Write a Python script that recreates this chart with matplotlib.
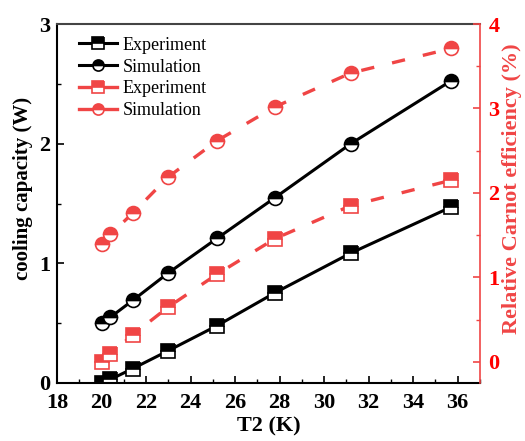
import matplotlib
matplotlib.use("Agg")
import matplotlib.pyplot as plt
from matplotlib.ticker import MultipleLocator

plt.rcParams['font.family'] = ['Liberation Serif', 'DejaVu Serif']

T2 = [20.0, 20.4, 21.4, 23.0, 25.2, 27.8, 31.2, 35.7]
cap_exp = [0.0, 0.03, 0.12, 0.27, 0.48, 0.755, 1.086, 1.47]
cap_sim = [0.50, 0.55, 0.69, 0.92, 1.21, 1.55, 2.0, 2.525]
eff_exp = [0.0, 0.09, 0.32, 0.65, 1.04, 1.46, 1.85, 2.15]
eff_sim = [1.39, 1.51, 1.76, 2.19, 2.62, 3.02, 3.42, 3.71]

RED = '#f04545'
TICKRED = '#ff0000'

fig = plt.figure(figsize=(5.25, 4.41), dpi=100)
ax = fig.add_axes([57/525, 1-383/441, (480-57)/525, (383-24)/441])
ax2 = ax.twinx()

mk = dict(markersize=10, markeredgewidth=1.2, markerfacecoloralt='white', fillstyle='top')
l1, = ax.plot(T2, cap_exp, '-', color='black', lw=2.2, marker='s',
              markerfacecolor='black', markeredgecolor='black', label='Experiment', **mk)
l2, = ax.plot(T2, cap_sim, '-', color='black', lw=2.2, marker='o',
              markerfacecolor='black', markeredgecolor='black', label='Simulation', **mk)
l3, = ax2.plot(T2, eff_exp, color=RED, lw=2.4, linestyle=(0, (4, 5.5)), marker='s',
               markerfacecolor=RED, markeredgecolor=RED, label='Experiment', **mk)
l4, = ax2.plot(T2, eff_sim, color=RED, lw=2.4, linestyle=(0, (4, 5.5)), marker='o',
               markerfacecolor=RED, markeredgecolor=RED, label='Simulation', **mk)

ax.set_xlim(18, 37)
ax.set_ylim(0, 3)
ax2.set_ylim(-0.25, 4)
ax.xaxis.set_major_locator(MultipleLocator(2))
ax.xaxis.set_minor_locator(MultipleLocator(1))
ax.yaxis.set_major_locator(MultipleLocator(1))
ax.yaxis.set_minor_locator(MultipleLocator(0.5))
ax2.yaxis.set_major_locator(MultipleLocator(1))
ax2.yaxis.set_minor_locator(MultipleLocator(0.5))

for a in (ax, ax2):
    a.tick_params(which='both', direction='in', top=False)
ax.tick_params(which='major', length=5, width=1.2, labelsize=16)
ax.tick_params(axis='x', which='major', pad=7)
ax.tick_params(axis='y', which='major', pad=5)
ax.tick_params(which='minor', length=3, width=1)
ax.tick_params(axis='y', right=False, which='both')
ax2.tick_params(axis='y', which='major', length=5, width=1.2, labelsize=16,
                colors=RED, labelcolor=TICKRED, pad=6)
ax2.tick_params(axis='y', which='minor', length=3, width=1, colors=RED)
for lab in ax.get_xticklabels() + ax.get_yticklabels() + ax2.get_yticklabels():
    lab.set_fontweight('bold')

for s in ('left', 'bottom'):
    ax.spines[s].set_linewidth(1.5)
ax.spines['top'].set_linewidth(1.5)
ax.spines['top'].set_color('#444444')
ax2.spines['right'].set_color(RED)
ax2.spines['right'].set_linewidth(1.2)
ax2.spines['left'].set_visible(False)
ax2.spines['top'].set_visible(False)
ax2.spines['bottom'].set_visible(False)
ax.spines['right'].set_visible(False)

ax.set_xlabel('T2 (K)', fontsize=16, fontweight='bold')
ax.xaxis.set_label_coords(0.5, -0.092)
ax.set_ylabel('cooling capacity (W)', fontsize=15, fontweight='bold')
ax.yaxis.set_label_coords(-0.057, 0.543)
ax2.set_ylabel('Relative Carnot efficiency (%)', fontsize=16, fontweight='bold',
               color=RED)
ax2.yaxis.set_label_coords(1.052, 0.54)

leg = ax.legend(handles=[l1, l2, l3, l4], loc='upper left', frameon=False,
                fontsize=13, handlelength=2.1, handletextpad=0.3, labelspacing=0.27,
                borderaxespad=0.3, bbox_to_anchor=(0.022, 1.0))
for h in leg.legend_handles:
    h.set_linestyle('-')
    h.set_markersize(8)

fig.savefig('out.png', dpi=100)
